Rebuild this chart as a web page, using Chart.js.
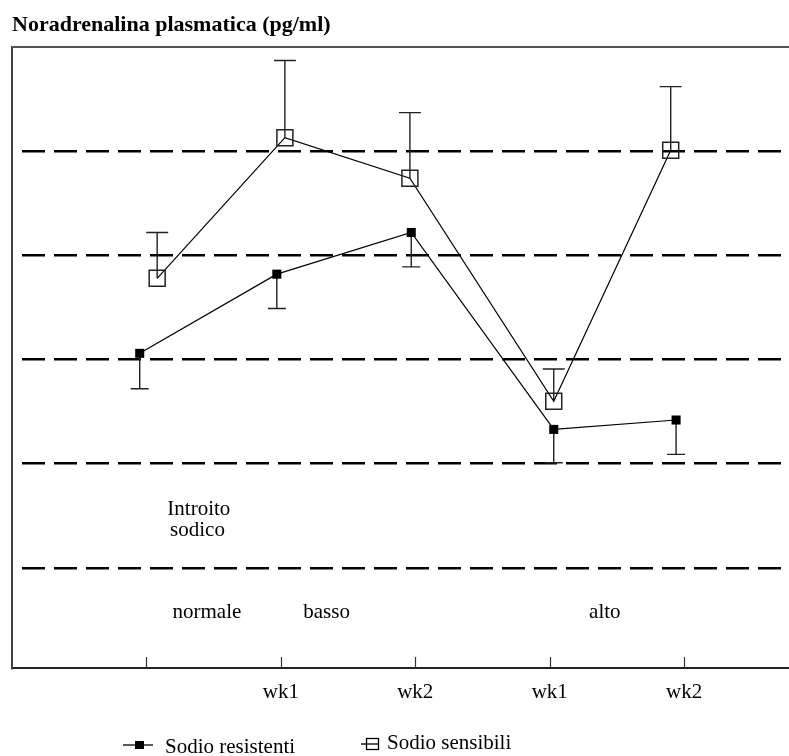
<!DOCTYPE html>
<html>
<head>
<meta charset="utf-8">
<script src="https://cdn.jsdelivr.net/npm/chart.js@4.4.0/dist/chart.umd.min.js"></script>
<style>
  html, body { margin: 0; padding: 0; background: #fff; }
  #wrap { width: 789px; height: 756px; }
</style>
</head>
<body>
<div id="wrap"><canvas id="noraChart" width="789" height="756"></canvas></div>
<script>
// x ticks (1 = normale, 2-3 = basso wk1/wk2, 4-5 = alto wk1/wk2)
const tickPositions = [1, 2, 3, 4, 5];
const tickLabels = ["", "wk1", "wk2", "wk1", "wk2"];

// Sodio resistenti (filled squares, error bars downward)
const resistentiX = [0.95, 1.97, 2.97, 4.03, 4.94];
const resistentiY = [306, 382, 422, 233, 242];
const resistentiErr = [34, 33, 33, 32, 33];

// Sodio sensibili (open squares, error bars upward)
const sensibiliX = [1.08, 2.03, 2.96, 4.03, 4.9];
const sensibiliY = [378, 513, 474, 260, 501];
const sensibiliErr = [44, 74, 63, 31, 61];

// dashed reference lines
const gridValues = [100, 200, 300, 400, 500];

const serif = "'Liberation Serif', 'Times New Roman', serif";

// annotation texts placed in data units
const notes = [
  { text: "Introito", x: 1.39, y: 156 },
  { text: "sodico", x: 1.38, y: 136 },
  { text: "normale", x: 1.45, y: 57 },
  { text: "basso", x: 2.34, y: 57 },
  { text: "alto", x: 4.41, y: 57 },
];

const toPoints = (xs, ys) => xs.map((x, i) => ({ x: x, y: ys[i] }));

// vertical error bars with caps
const errorBars = {
  id: "errorBars",
  beforeDatasetsDraw(chart) {
    const { ctx, scales } = chart;
    const sets = [
      { xs: resistentiX, ys: resistentiY, err: resistentiErr, dir: -1, cap: 9 },
      { xs: sensibiliX, ys: sensibiliY, err: sensibiliErr, dir: 1, cap: 11 },
    ];
    ctx.save();
    ctx.strokeStyle = "#222";
    ctx.lineWidth = 1.4;
    sets.forEach((s) => {
      s.xs.forEach((xv, i) => {
        const x = scales.x.getPixelForValue(xv);
        const y0 = scales.y.getPixelForValue(s.ys[i]);
        const y1 = scales.y.getPixelForValue(s.ys[i] + s.dir * s.err[i]);
        ctx.beginPath();
        ctx.moveTo(x, y0);
        ctx.lineTo(x, y1);
        ctx.moveTo(x - s.cap, y1);
        ctx.lineTo(x + s.cap, y1);
        ctx.stroke();
      });
    });
    ctx.restore();
  },
};

// frame top line, inner tick marks, title, notes, legend
const decorations = {
  id: "decorations",
  afterDraw(chart) {
    const { ctx, chartArea, scales } = chart;
    ctx.save();

    // top line of the frame
    ctx.strokeStyle = "#555";
    ctx.lineWidth = 2;
    ctx.beginPath();
    ctx.moveTo(chartArea.left, chartArea.top);
    ctx.lineTo(chart.width, chartArea.top);
    ctx.stroke();

    // tick marks pointing into the plot
    ctx.strokeStyle = "#333";
    ctx.lineWidth = 1.2;
    tickPositions.forEach((v) => {
      const x = Math.round(scales.x.getPixelForValue(v)) + 0.5;
      ctx.beginPath();
      ctx.moveTo(x, chartArea.bottom);
      ctx.lineTo(x, chartArea.bottom - 11);
      ctx.stroke();
    });

    // title
    ctx.fillStyle = "#000";
    ctx.font = "bold 22px " + serif;
    ctx.textAlign = "left";
    ctx.textBaseline = "alphabetic";
    ctx.fillText("Noradrenalina plasmatica (pg/ml)", 12, 31);

    // notes inside the plot
    ctx.font = "21px " + serif;
    ctx.textAlign = "center";
    ctx.textBaseline = "middle";
    notes.forEach((n) => {
      ctx.fillText(n.text, scales.x.getPixelForValue(n.x), scales.y.getPixelForValue(n.y));
    });

    // legend
    ctx.strokeStyle = "#000";
    ctx.lineWidth = 1.3;
    ctx.beginPath();
    ctx.moveTo(123, 745);
    ctx.lineTo(153, 745);
    ctx.stroke();
    ctx.fillRect(135, 741, 9, 8);
    ctx.textAlign = "left";
    ctx.fillText("Sodio resistenti", 165, 747);

    ctx.beginPath();
    ctx.moveTo(361, 744);
    ctx.lineTo(378, 744);
    ctx.stroke();
    ctx.strokeRect(366.5, 738.5, 12, 11);
    ctx.fillText("Sodio sensibili", 387, 743);

    ctx.restore();
  },
};

const config = {
  type: "line",
  data: {
    datasets: [
      {
        label: "Sodio resistenti",
        data: toPoints(resistentiX, resistentiY),
        borderColor: "#000",
        borderWidth: 1.2,
        pointStyle: "rect",
        pointRadius: 6.4,
        pointBackgroundColor: "#000",
        pointBorderColor: "#000",
        pointBorderWidth: 0,
        tension: 0,
      },
      {
        label: "Sodio sensibili",
        data: toPoints(sensibiliX, sensibiliY),
        borderColor: "#000",
        borderWidth: 1.2,
        pointStyle: "rect",
        pointRadius: 11.3,
        pointBackgroundColor: "rgba(0,0,0,0)",
        pointBorderColor: "#222",
        pointBorderWidth: 1.5,
        tension: 0,
      },
    ],
  },
  options: {
    responsive: false,
    devicePixelRatio: 1,
    animation: false,
    layout: {
      autoPadding: false,
      padding: { left: 12, right: 0, top: 47, bottom: 0 },
    },
    plugins: {
      legend: { display: false },
      title: { display: false },
      tooltip: { enabled: false },
    },
    scales: {
      x: {
        type: "linear",
        min: 0,
        max: 5.78,
        afterBuildTicks: (scale) => {
          scale.ticks = tickPositions.map((v) => ({ value: v }));
        },
        afterFit: (scale) => {
          scale.height = 88;
        },
        ticks: {
          padding: 12,
          maxRotation: 0,
          autoSkip: false,
          color: "#000",
          font: { family: serif, size: 21 },
          callback: (value) => tickLabels[tickPositions.indexOf(value)],
        },
        grid: { display: false, drawTicks: false },
        border: { display: true, color: "#222", width: 2 },
      },
      y: {
        type: "linear",
        min: 4,
        max: 600,
        afterBuildTicks: (scale) => {
          scale.ticks = gridValues.map((v) => ({ value: v }));
        },
        afterFit: (scale) => {
          scale.width = 0;
        },
        ticks: { display: false },
        grid: { color: "#000", lineWidth: 2.6, drawTicks: false },
        border: { display: true, color: "#444", width: 2, dash: [23, 9], dashOffset: 23 },
      },
    },
  },
  plugins: [errorBars, decorations],
};

new Chart(document.getElementById("noraChart").getContext("2d"), config);
</script>
</body>
</html>
